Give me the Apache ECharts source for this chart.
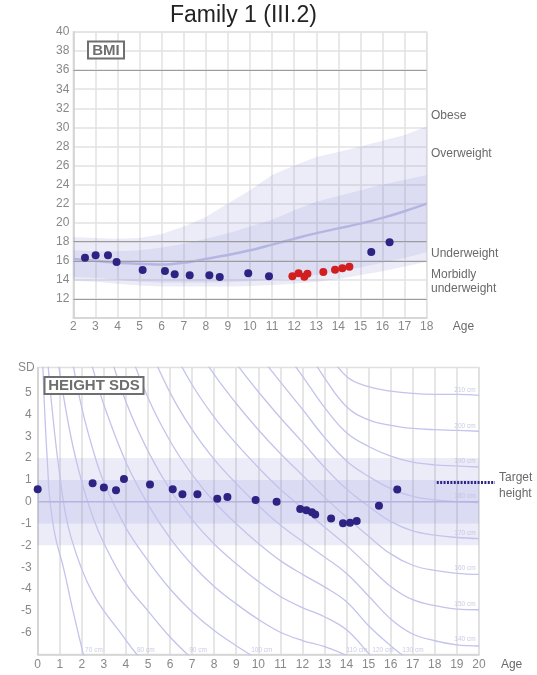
<!DOCTYPE html>
<html>
<head>
<meta charset="utf-8">
<title>Family 1 (III.2)</title>
<script src="https://cdn.jsdelivr.net/npm/echarts@6/dist/echarts.min.js"></script>
<style>
html, body { margin: 0; padding: 0; background: #fff; }
#chart { width: 537px; height: 675px; }
</style>
</head>
<body>
<div id="chart"></div>
<script>
const FONT = 'Arial, "Liberation Sans", sans-serif'

// BMI reference bands, age 2-18
const refAges = [2, 3, 4, 5, 6, 7, 8, 9, 10, 11, 12, 13, 14, 15, 16, 17, 18]
const outerLow = [13.9, 13.8, 13.6, 13.4, 13.3, 13.3, 13.3, 13.3, 13.35, 13.45, 13.6, 13.8, 14.1, 14.5, 14.9, 15.4, 15.9]
const innerLow = [14.3, 14.2, 14.0, 13.8, 13.7, 13.7, 13.7, 13.75, 13.85, 14.0, 14.2, 14.5, 14.9, 15.3, 15.8, 16.3, 16.9]
const bmiMedian = [16.2, 16.0, 15.8, 15.7, 15.6, 15.8, 16.2, 16.6, 17.1, 17.7, 18.3, 18.9, 19.4, 19.9, 20.5, 21.2, 22.0]
const innerHigh = [17.1, 17.0, 17.0, 17.1, 17.4, 17.8, 18.3, 18.9, 19.6, 20.3, 21.3, 22.2, 22.8, 23.4, 24.0, 24.5, 25.0]
const outerHigh = [18.5, 18.4, 18.3, 18.4, 18.8, 19.6, 20.6, 22.0, 23.4, 25.0, 26.0, 26.9, 27.4, 28.0, 28.6, 29.2, 30.1]
const bmiRefLines = [12, 16, 18, 36]

// measured BMI
const bmiAgesBlue = [2.53, 3.01, 3.57, 3.96, 5.14, 6.15, 6.59, 7.27, 8.16, 8.63, 9.92, 10.86, 15.49, 16.32]
const bmiBlue = [16.33, 16.58, 16.58, 15.88, 15.04, 14.93, 14.58, 14.48, 14.48, 14.3, 14.69, 14.37, 16.93, 17.94]
const bmiAgesRed = [11.92, 12.2, 12.46, 12.6, 13.32, 13.85, 14.18, 14.5]
const bmiRed = [14.37, 14.69, 14.33, 14.65, 14.83, 15.07, 15.21, 15.38]

// measured height SDS
const heightAges = [0, 2.49, 3.0, 3.55, 3.91, 5.09, 6.12, 6.56, 7.24, 8.14, 8.6, 9.88, 10.83, 11.9, 12.18, 12.43, 12.58, 13.3, 13.84, 14.16, 14.46, 15.47, 16.3]
const heightSds = [0.57, 0.85, 0.65, 0.53, 1.04, 0.79, 0.57, 0.34, 0.34, 0.14, 0.22, 0.08, 0.0, -0.33, -0.39, -0.48, -0.59, -0.77, -0.99, -0.96, -0.88, -0.18, 0.56]
const targetSds = 0.88
const targetAges = [18.09, 20.73]

// fixed-height curves [age, SDS]
const curve70 = [[0.2, 7.2], [0.3, 4.5], [0.45, 1.6], [0.56, 0], [0.8, -1.6], [1.16, -3.0], [1.6, -5.0], [2.07, -7.0], [2.2, -7.5]]
const curve80 = [[0.4, 7.4], [0.5, 5.9], [0.75, 3.3], [1.0, 1.2], [1.25, -0.5], [1.5, -1.6], [2.0, -3.1], [2.5, -4.2], [3.0, -5.0], [3.75, -6.0], [4.5, -7.0], [5.0, -7.5]]
const curve90 = [[0.9, 6.8], [1.0, 5.9], [1.5, 3.0], [2.0, 0.9], [2.5, -0.7], [3.0, -1.9], [4.0, -3.75], [5.0, -5.0], [6.0, -6.2], [7.0, -7.2]]
const curve100 = [[1.4, 7.3], [1.5, 6.8], [2.0, 4.3], [2.5, 2.4], [3.0, 0.9], [4.0, -1.2], [5.0, -2.7], [6.0, -4.0], [7.0, -5.05], [8.0, -5.9], [9.0, -6.6], [9.62, -7.0], [10.0, -7.25]]
const curve110 = [[2.3, 7.0], [2.5, 6.1], [3.0, 4.44], [4.0, 1.81], [5.0, -0.12], [6.0, -1.67], [7.0, -2.89], [8.0, -3.88], [9.0, -4.68], [10.0, -5.39], [11.0, -5.98], [12.0, -6.36], [13.0, -6.64], [14.0, -7.05], [14.3, -7.3]]
const curve120 = [[2.8, 8.3], [3.0, 7.62], [4.0, 4.58], [5.0, 2.32], [6.0, 0.56], [7.0, -0.82], [8.0, -1.94], [9.0, -2.84], [10.0, -3.65], [11.0, -4.34], [12.0, -4.85], [13.0, -5.27], [14.0, -5.87], [15.0, -6.95], [15.3, -7.3]]
const curve130 = [[3.8, 8.0], [4.0, 7.36], [5.0, 4.76], [6.0, 2.78], [7.0, 1.24], [8.0, 0.0], [9.0, -1.01], [10.0, -1.91], [11.0, -2.7], [12.0, -3.33], [13.0, -3.9], [14.0, -4.58], [15.0, -5.68], [16.0, -6.6], [16.5, -7.0], [17.0, -7.3]]
const curve140 = [[4.8, 7.8], [5, 7.2], [6, 5.0], [7, 3.3], [8, 1.94], [9, 0.83], [10, -0.17], [11, -1.07], [12, -1.82], [13, -2.53], [14, -3.29], [15, -4.32], [16, -5.37], [17, -6.06], [18, -6.37], [19, -6.56], [20, -6.61]]
const curve150 = [[5.8, 7.8], [6, 7.22], [7, 5.36], [8, 3.88], [9, 2.66], [10, 1.57], [11, 0.57], [12, -0.3], [13, -1.16], [14, -2.0], [15, -2.95], [16, -3.88], [17, -4.49], [18, -4.76], [19, -4.92], [20, -4.95]]
const curve160 = [[6.8, 7.9], [7, 7.42], [8, 5.83], [9, 4.5], [10, 3.3], [11, 2.21], [12, 1.21], [13, 0.21], [14, -0.71], [15, -1.58], [16, -2.39], [17, -2.91], [18, -3.15], [19, -3.28], [20, -3.33]]
const curve170 = [[8, 7.77], [9, 6.33], [10, 5.04], [11, 3.85], [12, 2.73], [13, 1.58], [14, 0.58], [15, -0.21], [16, -0.9], [17, -1.34], [18, -1.53], [19, -1.64], [20, -1.69]]
const curve180 = [[9, 8.17], [10, 6.78], [11, 5.49], [12, 4.24], [13, 2.95], [14, 1.87], [15, 1.16], [16, 0.6], [17, 0.24], [18, 0.08], [19, 0.0], [20, -0.05]]
const curve190 = [[10, 8.52], [11, 7.13], [12, 5.76], [13, 4.32], [14, 3.16], [15, 2.53], [16, 2.09], [17, 1.81], [18, 1.69], [19, 1.64], [20, 1.59]]
const curve200 = [[11.5, 8.0], [12, 7.27], [13, 5.68], [14, 4.35], [15, 3.75], [16, 3.5], [17, 3.36], [18, 3.3], [19, 3.27], [20, 3.23]]
const curve210 = [[12.5, 7.9], [13, 7.05], [14, 5.74], [15, 5.27], [16, 5.07], [17, 4.96], [18, 4.92], [19, 4.92], [20, 4.87]]
const isoCurves = [curve70, curve80, curve90, curve100, curve110, curve120, curve130,
  curve140, curve150, curve160, curve170, curve180, curve190, curve200, curve210]

// curve captions
const curveLabelTexts = ['70 cm', '80 cm', '90 cm', '100 cm', '110 cm', '120 cm', '130 cm',
  '140 cm', '150 cm', '160 cm', '170 cm', '180 cm', '190 cm', '200 cm', '210 cm']
const curveLabelAges = [2.55, 4.9, 7.27, 10.16, 14.47, 15.65, 17.01, 19.37, 19.37, 19.37, 19.37, 19.37, 19.37, 19.37, 19.37]
const curveLabelSds = [-6.82, -6.82, -6.82, -6.82, -6.82, -6.82, -6.82, -6.32, -4.68, -3.03, -1.42, 0.27, 1.86, 3.47, 5.13]

const pairs = (xs, ys) => xs.map((x, i) => [x, ys[i]])

const axisLabel = { color: '#888', fontSize: 12, fontFamily: FONT }
const lineColor = '#d2d2d2'
const navy = '#2c2382'
// translucent band fills so the grid shows through
const bandOuter = 'rgba(120,120,210,0.14)'
const bandInner = 'rgba(120,120,210,0.26)'

const chart = echarts.init(document.getElementById('chart'), null, { renderer: 'canvas' })

// BMI bands as polygons between two reference curves
const bandPoints = (api, upper, lower) => {
  const top = refAges.map((a, i) => api.coord([a, upper[i]]))
  const bottom = refAges.map((a, i) => api.coord([a, lower[i]])).reverse()
  return top.concat(bottom)
}

const series = [
  {
    type: 'custom', xAxisIndex: 0, yAxisIndex: 0, silent: true, clip: true, z: 1,
    data: [[refAges[0], outerLow[0]]],
    renderItem: (params, api) => ({
      type: 'group',
      children: [
        { type: 'polygon', shape: { points: bandPoints(api, innerLow, outerLow) }, style: { fill: bandOuter } },
        { type: 'polygon', shape: { points: bandPoints(api, innerHigh, innerLow) }, style: { fill: bandInner } },
        { type: 'polygon', shape: { points: bandPoints(api, outerHigh, innerHigh) }, style: { fill: bandOuter } }
      ]
    })
  },
  {
    type: 'line', xAxisIndex: 0, yAxisIndex: 0, data: pairs(refAges, bmiMedian),
    smooth: 0.3, symbol: 'none', silent: true, z: 2,
    lineStyle: { color: '#b5b5e2', width: 2.5 },
    markLine: {
      silent: true, symbol: 'none', label: { show: false },
      lineStyle: { color: '#9c9c9c', width: 1, type: 'solid' },
      data: bmiRefLines.map(v => ({ yAxis: v }))
    }
  },
  {
    type: 'scatter', xAxisIndex: 0, yAxisIndex: 0, data: pairs(bmiAgesBlue, bmiBlue),
    symbolSize: 8, itemStyle: { color: navy, opacity: 1 }, z: 5
  },
  {
    type: 'scatter', xAxisIndex: 0, yAxisIndex: 0, data: pairs(bmiAgesRed, bmiRed),
    symbolSize: 8, itemStyle: { color: '#d21e1e', opacity: 1 }, z: 5
  },
  // height SDS: bands and zero line
  {
    type: 'line', xAxisIndex: 1, yAxisIndex: 1, data: [[0, 0], [20, 0]],
    symbol: 'none', silent: true, z: 3,
    lineStyle: { color: '#b4b4de', width: 1.5 },
    markArea: {
      silent: true,
      data: [
        [{ yAxis: -2, itemStyle: { color: bandOuter } }, { yAxis: 2 }],
        [{ yAxis: -1, itemStyle: { color: bandOuter } }, { yAxis: 1 }]
      ]
    }
  }
]

isoCurves.forEach(c => {
  series.push({
    type: 'line', xAxisIndex: 1, yAxisIndex: 1, data: c,
    smooth: 0.4, symbol: 'none', silent: true, clip: true, z: 2,
    lineStyle: { color: '#c3c3ec', width: 1.3 }
  })
})

series.push(
  {
    type: 'scatter', xAxisIndex: 1, yAxisIndex: 1, silent: true, z: 3,
    data: curveLabelAges.map((a, i) => [a, curveLabelSds[i], curveLabelTexts[i]]),
    symbol: 'circle', symbolSize: 1, itemStyle: { color: 'rgba(0,0,0,0)' },
    label: {
      show: true, position: 'inside', formatter: p => p.data[2],
      fontSize: 6.5, color: '#bdbde0', fontFamily: FONT
    }
  },
  {
    type: 'scatter', xAxisIndex: 1, yAxisIndex: 1, data: pairs(heightAges, heightSds),
    symbolSize: 8, itemStyle: { color: navy, opacity: 1 }, z: 5
  },
  {
    // target height marker runs past the plot edge
    type: 'custom', xAxisIndex: 1, yAxisIndex: 1, silent: true, clip: false, z: 5,
    data: [[targetAges[0], targetSds]],
    renderItem: (params, api) => {
      const a = api.coord([targetAges[0], targetSds])
      const b = api.coord([targetAges[1], targetSds])
      return {
        type: 'line',
        shape: { x1: a[0], y1: a[1], x2: b[0], y2: b[1] },
        style: { stroke: navy, lineWidth: 3, lineDash: [2, 1.4] }
      }
    }
  }
)

const labelText = (x, y, text) => ({
  type: 'text', x, y, z: 100,
  style: { text, font: '12px ' + FONT, fill: '#6a6a6a', textVerticalAlign: 'middle', verticalAlign: 'middle' }
})

chart.setOption({
  animation: false,
  backgroundColor: '#fff',
  title: {
    text: 'Family 1 (III.2)', left: 170, top: 4, padding: 0,
    textStyle: { fontSize: 23, fontWeight: 'normal', color: '#222', fontFamily: FONT }
  },
  grid: [
    { left: 73.3, top: 32, width: 353.4, height: 286, show: true, borderColor: '#e2e2e2', borderWidth: 1.5 },
    { left: 37.7, top: 367.5, width: 441.2, height: 287, show: true, borderColor: '#e0e0e0', borderWidth: 1.5 }
  ],
  xAxis: [
    {
      gridIndex: 0, type: 'value', min: 2, max: 18, interval: 1,
      axisLine: { show: true, onZero: false, lineStyle: { color: lineColor, width: 1.5 } },
      axisTick: { show: false },
      axisLabel: { ...axisLabel, margin: 3 },
      splitLine: { show: true, lineStyle: { color: '#e2e2e2', width: 1.5 } },
      name: 'Age', nameLocation: 'end', nameGap: 26,
      nameTextStyle: { color: '#6a6a6a', fontSize: 12, fontFamily: FONT, verticalAlign: 'top', padding: [3, 0, 0, 0] }
    },
    {
      gridIndex: 1, type: 'value', min: 0, max: 20, interval: 1,
      axisLine: { show: true, onZero: false, lineStyle: { color: lineColor, width: 1.5 } },
      axisTick: { show: false },
      axisLabel: { ...axisLabel, margin: 4 },
      splitLine: { show: true, lineStyle: { color: '#dedede', width: 1.5 } },
      name: 'Age', nameLocation: 'end', nameGap: 22,
      nameTextStyle: { color: '#6a6a6a', fontSize: 12, fontFamily: FONT, verticalAlign: 'top', padding: [4, 0, 0, 0] }
    }
  ],
  yAxis: [
    {
      gridIndex: 0, type: 'value', min: 10, max: 40, interval: 2,
      axisLine: { show: true, onZero: false, lineStyle: { color: lineColor, width: 1.5 } },
      axisTick: { show: false },
      axisLabel: { ...axisLabel, margin: 4, formatter: v => (v === 10 ? '' : v) },
      splitLine: { show: true, lineStyle: { color: '#e2e2e2', width: 1.5 } }
    },
    {
      gridIndex: 1, type: 'value', min: -7, max: 6.15, interval: 1,
      axisLine: { show: true, onZero: false, lineStyle: { color: lineColor, width: 1.5 } },
      axisTick: { show: false },
      axisLabel: { ...axisLabel, margin: 6, formatter: v => (Number.isInteger(v) && v >= -6 && v <= 5 ? String(v) : '') },
      splitLine: { show: false },
      name: 'SD', nameLocation: 'end', nameGap: 0,
      nameTextStyle: { color: '#888', fontSize: 12, fontFamily: FONT, align: 'right', verticalAlign: 'middle', padding: [0, 3, 0, 0] }
    }
  ],
  graphic: [
    { type: 'rect', z: 100, shape: { x: 88, y: 41.5, width: 36, height: 17 }, style: { fill: '#fff', stroke: '#6f6f6f', lineWidth: 2 } },
    { type: 'text', z: 101, x: 106, y: 50.5, style: { text: 'BMI', font: 'bold 15px ' + FONT, fill: '#6f6f6f', textAlign: 'center', align: 'center', textVerticalAlign: 'middle', verticalAlign: 'middle' } },
    { type: 'rect', z: 100, shape: { x: 44.5, y: 377, width: 99, height: 17 }, style: { fill: '#fff', stroke: '#6f6f6f', lineWidth: 2 } },
    { type: 'text', z: 101, x: 94, y: 386, style: { text: 'HEIGHT SDS', font: 'bold 15px ' + FONT, fill: '#6f6f6f', textAlign: 'center', align: 'center', textVerticalAlign: 'middle', verticalAlign: 'middle' } },
    labelText(431, 115.5, 'Obese'),
    labelText(431, 153.5, 'Overweight'),
    labelText(431, 253.5, 'Underweight'),
    labelText(431, 274.5, 'Morbidly'),
    labelText(431, 289, 'underweight'),
    labelText(499, 478, 'Target'),
    labelText(499, 494, 'height')
  ],
  series
})
</script>
</body>
</html>
